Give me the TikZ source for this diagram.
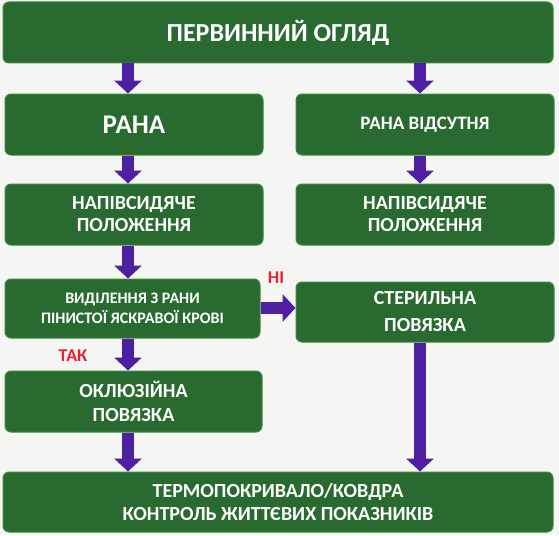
\documentclass[tikz,border=0pt]{standalone}
\usepackage{fontspec}
\setmainfont{Carlito}
\usetikzlibrary{arrows.meta, positioning}

\definecolor{boxgreen}{RGB}{40,106,47}
\definecolor{boxedge}{RGB}{62,136,62}
\definecolor{arrowviolet}{RGB}{76,32,160}
\definecolor{labelred}{RGB}{232,32,52}
\definecolor{bgpaper}{RGB}{245,245,243}

\newcommand{\fsize}[2]{\fontsize{#1}{#2}\selectfont}

\begin{document}
\begin{tikzpicture}[
  x=1pt, y=-1pt,
  every node/.style={align=center, text=white, font=\bfseries},
  box/.style={fill=boxgreen, draw=boxedge, line width=1pt, rounded corners=6pt, inner sep=0pt, minimum height=61pt},
  wide/.style={box, minimum width=550pt},
  half/.style={box, minimum width=258pt},
  flow/.style={draw=arrowviolet, line width=12pt, -{Triangle[width=27pt, length=13pt]}},
  answer/.style={text=labelred, font=\bfseries\fsize{18}{20}}
]
\fill[bgpaper] (0,0) rectangle (559,535);

% boxes
\node[wide, font=\bfseries\fsize{26}{30}] (survey) at (278,32.5) {ПЕРВИННИЙ ОГЛЯД};
\node[half, font=\bfseries\fsize{27}{30}] (wound) at (134,124.5) {РАНА};
\node[half, font=\bfseries\fsize{19}{22}] (nowound) at (425,124.5) {РАНА ВІДСУТНЯ};
\node[half, font=\bfseries\fsize{20}{22}] (semileft) at (134,214.5) {НАПІВСИДЯЧЕ\\ПОЛОЖЕННЯ};
\node[half, font=\bfseries\fsize{20}{22}] (semiright) at (425,214.5) {НАПІВСИДЯЧЕ\\ПОЛОЖЕННЯ};
\node[half, minimum width=255pt, minimum height=59pt, font=\bfseries\fsize{16}{20}] (blood) at (132.5,308.5) {ВИДІЛЕННЯ З РАНИ\\ПІНИСТОЇ ЯСКРАВОЇ КРОВІ};
\node[half, minimum height=60pt, font=\bfseries\fsize{20}{27}] (sterile) at (425,312) {СТЕРИЛЬНА\\ПОВЯЗКА};
\node[half, minimum width=257pt, font=\bfseries\fsize{20}{24}] (occlusive) at (133.5,401.5) {ОКЛЮЗІЙНА\\ПОВЯЗКА};
\node[wide, minimum height=60pt, font=\bfseries\fsize{20}{23}] (blanket) at (278,502) {ТЕРМОПОКРИВАЛО/КОВДРА\\КОНТРОЛЬ ЖИТТЄВИХ ПОКАЗНИКІВ};

% arrow lanes
\coordinate (laneL) at (128,0);
\coordinate (laneR) at (420,0);

\draw[flow] (survey.south -| laneL) -- (wound.north -| laneL);
\draw[flow] (survey.south -| laneR) -- (nowound.north -| laneR);
\draw[flow] (wound.south -| laneL) -- (semileft.north -| laneL);
\draw[flow] (nowound.south -| laneR) -- (semiright.north -| laneR);
\draw[flow] (semileft.south -| laneL) -- (blood.north -| laneL);
\draw[flow] (blood.south -| laneL) -- (occlusive.north -| laneL);
\draw[flow] (occlusive.south -| laneL) -- (blanket.north -| laneL);
\draw[flow] (sterile.south -| laneR) -- (blanket.north -| laneR);
\draw[flow] (blood.east |- 0,308) -- (sterile.west |- 0,308);

% answers
\node[answer] (no) at (276,278) {НІ};
\node[answer] (yes) at (73,356) {ТАК};
\end{tikzpicture}
\end{document}
